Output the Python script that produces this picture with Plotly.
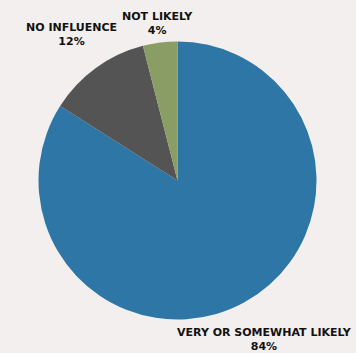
import plotly.graph_objects as go

labels = ["VERY OR SOMEWHAT LIKELY", "NO INFLUENCE", "NOT LIKELY"]
values = [84, 12, 4]
colors = ["#2e76a5", "#545454", "#8a9d65"]

W, H = 356, 353
cx, cy, r = 177.5, 180.5, 139

fig = go.Figure(go.Pie(
    labels=labels, values=values, sort=False, direction="clockwise", rotation=0,
    marker=dict(colors=colors, line=dict(width=0)),
    textinfo="none", hoverinfo="label+percent",
    domain=dict(x=[(cx - r) / W, (cx + r) / W], y=[1 - (cy + r) / H, 1 - (cy - r) / H]),
    showlegend=False,
))

label_pos = [(264, 339), (71, 35), (157, 23)]  # pixel centres of label blocks
for lab, val, (x, y) in zip(labels, values, label_pos):
    fig.add_annotation(
        x=x / W, y=1 - y / H, xref="paper", yref="paper", showarrow=False,
        xanchor="center", yanchor="middle",
        text=f"{lab}<br>{val}%", align="center",
        font=dict(family="DejaVu Sans", size=11, color="#111111", weight="bold"),
    )

fig.update_layout(
    width=W, height=H, margin=dict(l=0, r=0, t=0, b=0),
    paper_bgcolor="#f2efee", plot_bgcolor="#f2efee",
)
fig.write_html("out.html", config={"displayModeBar": False},
               post_script="document.body.style.margin='0';document.body.style.overflow='hidden';")
